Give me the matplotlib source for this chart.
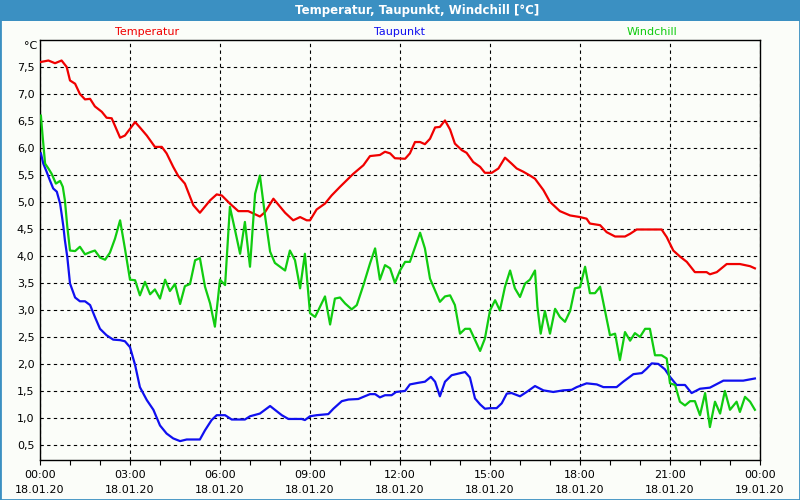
import matplotlib
matplotlib.use("Agg")
import matplotlib.pyplot as plt
from matplotlib.patches import Rectangle

# ---- data (hours since 18.01.20 00:00) ----
temp_t = [0.0, 0.28, 0.5, 0.72, 0.89, 1.0, 1.17, 1.33, 1.5, 1.67, 1.83, 2.06, 2.22, 2.39, 2.67, 2.83,
          3.17, 3.33, 3.56, 3.83, 4.06, 4.22, 4.44, 4.61, 4.83, 5.11, 5.33, 5.67, 5.89, 6.06, 6.33, 6.61,
          6.94, 7.06, 7.33, 7.5, 7.78, 8.17, 8.44, 8.67, 8.89, 9.0, 9.22, 9.5, 9.72, 10.0, 10.44,
          10.78, 11.0, 11.33, 11.5, 11.67, 11.83, 12.17, 12.33, 12.5, 12.67, 12.83, 13.0, 13.17, 13.33,
          13.5, 13.67, 13.83, 14.06, 14.22, 14.44, 14.67, 14.83, 15.06, 15.28, 15.5, 15.72, 15.89,
          16.11, 16.33, 16.5, 16.78, 17.0, 17.33, 17.67, 18.0, 18.22, 18.33, 18.67, 18.89, 19.17, 19.5,
          19.67, 19.89, 20.22, 20.56, 20.72, 20.89, 21.11, 21.33, 21.56, 21.83, 22.22, 22.33, 22.56,
          22.89, 23.33, 23.67, 23.83]
temp_v = [7.59, 7.62, 7.57, 7.62, 7.5, 7.25, 7.19, 7.0, 6.9, 6.91, 6.77, 6.67, 6.56, 6.55, 6.19, 6.23,
          6.48, 6.38, 6.23, 6.02, 6.02, 5.9, 5.65, 5.48, 5.34, 4.94, 4.8, 5.03, 5.14, 5.12, 4.97, 4.83,
          4.83, 4.8, 4.73, 4.81, 5.06, 4.8, 4.66, 4.72, 4.66, 4.66, 4.86, 4.97, 5.12, 5.28, 5.52,
          5.68, 5.85, 5.87, 5.93, 5.9, 5.81, 5.8, 5.9, 6.11, 6.11, 6.07, 6.17, 6.38, 6.39,
          6.51, 6.34, 6.08, 5.96, 5.91, 5.74, 5.65, 5.54, 5.54, 5.62, 5.82, 5.71, 5.62,
          5.56, 5.49, 5.43, 5.22, 5.0, 4.83, 4.75, 4.72, 4.69, 4.6, 4.57, 4.44, 4.36, 4.36,
          4.41, 4.49, 4.49, 4.49, 4.49, 4.35, 4.1, 3.99, 3.89, 3.7, 3.7, 3.66, 3.7,
          3.85, 3.85, 3.81, 3.77]

dew_t = [0.03, 0.11, 0.22, 0.33, 0.44, 0.56, 0.67, 0.72, 0.78, 0.83, 0.91, 1.0, 1.17, 1.33, 1.5, 1.67,
         1.83, 2.0, 2.22, 2.44, 2.67, 2.83, 3.0, 3.17, 3.33, 3.56, 3.78, 4.0, 4.22, 4.44, 4.67, 4.89,
         5.33, 5.5, 5.72, 5.89, 6.17, 6.39, 6.83, 7.0, 7.33, 7.67, 7.83, 8.06, 8.28, 8.72, 8.83, 9.0,
         9.22, 9.61, 9.78, 10.06, 10.28, 10.61, 10.78, 11.0, 11.17, 11.33, 11.5, 11.72, 11.87, 12.17,
         12.33, 12.61, 12.83, 13.03, 13.17, 13.33, 13.5, 13.72, 13.94, 14.17, 14.33, 14.5, 14.67,
         14.83, 15.0, 15.22, 15.39, 15.56, 15.72, 16.0, 16.22, 16.5, 16.78, 17.11, 17.44, 17.72,
         17.89, 18.22, 18.56, 18.78, 19.22, 19.44, 19.78, 20.06, 20.22, 20.39, 20.61, 20.83, 21.0,
         21.22, 21.5, 21.72, 22.0, 22.33, 22.78, 23.44, 23.83]
dew_v = [5.9, 5.71, 5.56, 5.4, 5.25, 5.19, 4.97, 4.78, 4.54, 4.29, 3.98, 3.49, 3.23, 3.16, 3.16, 3.09,
         2.87, 2.65, 2.53, 2.45, 2.44, 2.42, 2.31, 1.98, 1.57, 1.33, 1.15, 0.86, 0.71, 0.62, 0.57, 0.6,
         0.6, 0.77, 0.96, 1.05, 1.05, 0.97, 0.97, 1.03, 1.08, 1.22, 1.15, 1.05, 0.98, 0.98, 0.96, 1.03,
         1.05, 1.07, 1.17, 1.31, 1.34, 1.35, 1.39, 1.44, 1.44, 1.38, 1.42, 1.42, 1.48, 1.5,
         1.62, 1.65, 1.67, 1.76, 1.67, 1.4, 1.67, 1.79, 1.82, 1.85, 1.75, 1.36, 1.25,
         1.17, 1.18, 1.18, 1.27, 1.45, 1.46, 1.4, 1.48, 1.59, 1.51, 1.48, 1.51, 1.52,
         1.57, 1.64, 1.62, 1.57, 1.57, 1.67, 1.81, 1.83, 1.91, 2.01, 2.0, 1.9, 1.76,
         1.61, 1.61, 1.46, 1.54, 1.56, 1.69, 1.69, 1.73]

wc_t = [0.03, 0.09, 0.17, 0.28, 0.39, 0.53, 0.67, 0.76, 0.83, 0.91, 1.0, 1.17, 1.33, 1.5, 1.67, 1.83,
        2.0, 2.17, 2.33, 2.5, 2.67, 2.83, 3.0, 3.17, 3.33, 3.5, 3.67, 3.83, 4.0, 4.17, 4.33, 4.5,
        4.67, 4.83, 5.0, 5.17, 5.33, 5.5, 5.67, 5.83, 6.0, 6.17, 6.33, 6.5, 6.67, 6.83, 7.0, 7.17,
        7.33, 7.5, 7.67, 7.83, 8.17, 8.33, 8.5, 8.67, 8.83, 9.0, 9.17, 9.5, 9.67, 9.83, 10.0,
        10.17, 10.39, 10.56, 10.78, 11.0, 11.17, 11.33, 11.5, 11.67, 11.83, 12.0, 12.17, 12.33,
        12.67, 12.83, 13.0, 13.17, 13.33, 13.5, 13.67, 13.83, 14.0, 14.17, 14.33, 14.67, 14.83,
        15.0, 15.17, 15.33, 15.5, 15.67, 15.83, 16.0, 16.17, 16.33, 16.5, 16.58, 16.69, 16.83,
        17.0, 17.17, 17.33, 17.5, 17.67, 17.83, 18.0, 18.17, 18.33, 18.5, 18.67, 18.83, 19.0,
        19.17, 19.33, 19.5, 19.67, 19.83, 20.0, 20.17, 20.33, 20.5, 20.72, 20.89, 21.0, 21.17,
        21.33, 21.5, 21.67, 21.83, 22.0, 22.17, 22.33, 22.5, 22.67, 22.83, 23.0, 23.22, 23.33,
        23.5, 23.67, 23.83]
wc_v = [6.6, 6.2, 5.71, 5.62, 5.52, 5.34, 5.39, 5.28, 5.03, 4.54, 4.1, 4.09, 4.17, 4.03, 4.07, 4.1,
        3.97, 3.93, 4.06, 4.32, 4.66, 4.14, 3.56, 3.55, 3.27, 3.52, 3.29, 3.38, 3.21, 3.56, 3.35, 3.48,
        3.11, 3.44, 3.48, 3.92, 3.96, 3.43, 3.12, 2.69, 3.56, 3.46, 4.91, 4.48, 4.04, 4.63, 3.8, 5.15,
        5.49, 4.75, 4.08, 3.87, 3.73, 4.1, 3.92, 3.4, 4.04, 2.94, 2.87, 3.25, 2.73, 3.21, 3.23,
        3.12, 3.01, 3.09, 3.46, 3.86, 4.14, 3.56, 3.83, 3.77, 3.5, 3.73, 3.89, 3.89,
        4.43, 4.14, 3.58, 3.36, 3.15, 3.25, 3.27, 3.09, 2.56, 2.65, 2.65, 2.24, 2.47,
        2.99, 3.18, 2.99, 3.43, 3.73, 3.4, 3.24, 3.49, 3.56, 3.73, 3.06, 2.56, 2.98,
        2.56, 3.02, 2.87, 2.78, 2.98, 3.4, 3.42, 3.8, 3.31, 3.31, 3.43, 2.99, 2.53,
        2.56, 2.07, 2.59, 2.43, 2.57, 2.5, 2.65, 2.65, 2.16, 2.16, 2.1, 1.64, 1.61,
        1.3, 1.23, 1.31, 1.31, 1.05, 1.46, 0.83, 1.3, 1.08, 1.5, 1.15, 1.3, 1.11,
        1.39, 1.3, 1.15]

series_names = ["Temperatur", "Taupunkt", "Windchill"]
series_colors = ["#f00000", "#1010f0", "#10cc10"]
x_ticks = [0, 3, 6, 9, 12, 15, 18, 21, 24]
x_labels = ["00:00\n18.01.20", "03:00\n18.01.20", "06:00\n18.01.20", "09:00\n18.01.20",
            "12:00\n18.01.20", "15:00\n18.01.20", "18:00\n18.01.20", "21:00\n18.01.20",
            "00:00\n19.01.20"]
y_ticks = [0.5, 1.0, 1.5, 2.0, 2.5, 3.0, 3.5, 4.0, 4.5, 5.0, 5.5, 6.0, 6.5, 7.0, 7.5]
y_labels = ["0,5", "1,0", "1,5", "2,0", "2,5", "3,0", "3,5", "4,0", "4,5", "5,0", "5,5",
            "6,0", "6,5", "7,0", "7,5"]
title = "Temperatur, Taupunkt, Windchill [°C]"

W, H = 800, 500
bg = "#fbfdf9"
bar = "#3b90c2"
fig = plt.figure(figsize=(8, 5), dpi=100, facecolor=bg)

# frame and title bar
fig.patches.append(Rectangle((0, 0), 1, 1, transform=fig.transFigure, fill=False,
                             edgecolor=bar, linewidth=2))
fig.patches.append(Rectangle((0, 1 - 21 / H), 1, 21 / H, transform=fig.transFigure,
                             facecolor=bar, edgecolor="none"))
fig.text(417 / W, 1 - 10.5 / H, title, color="white", fontsize=8.5, fontweight="bold",
         ha="center", va="center")

ax = fig.add_axes([40 / W, 1 - 460 / H, 720 / W, 420 / H])
ax.set_facecolor(bg)

ax.plot(temp_t, temp_v, color=series_colors[0], lw=1.6, zorder=3)
ax.plot(dew_t, dew_v, color=series_colors[1], lw=1.6, zorder=3)
ax.plot(wc_t, wc_v, color=series_colors[2], lw=1.6, zorder=3)

ax.set_xlim(0, 24)
ax.set_ylim(0.22, 8.0)
ax.set_xticks(x_ticks)
ax.set_xticklabels(x_labels, fontsize=8, linespacing=1.6)
ax.set_xticks(range(0, 25), minor=True)
ax.set_yticks(y_ticks)
ax.set_yticklabels(y_labels, fontsize=8)
ax.tick_params(axis="x", which="both", length=3.5, width=0.8, direction="out", pad=3.5)
ax.tick_params(axis="y", length=0, pad=4)
ax.grid(True, which="major", color="black", linestyle=(0, (3, 3)), linewidth=0.8)
for s in ax.spines.values():
    s.set_color("black")
    s.set_linewidth(1)

# series labels
for name, col, xp in zip(series_names, series_colors, [147, 399, 652]):
    fig.text(xp / W, 1 - 32 / H, name, color=col, fontsize=8, ha="center", va="center")
fig.text(37 / W, 1 - 46 / H, "°C", fontsize=8, ha="right", va="center")

fig.savefig("out.png", dpi=100, facecolor=bg)
